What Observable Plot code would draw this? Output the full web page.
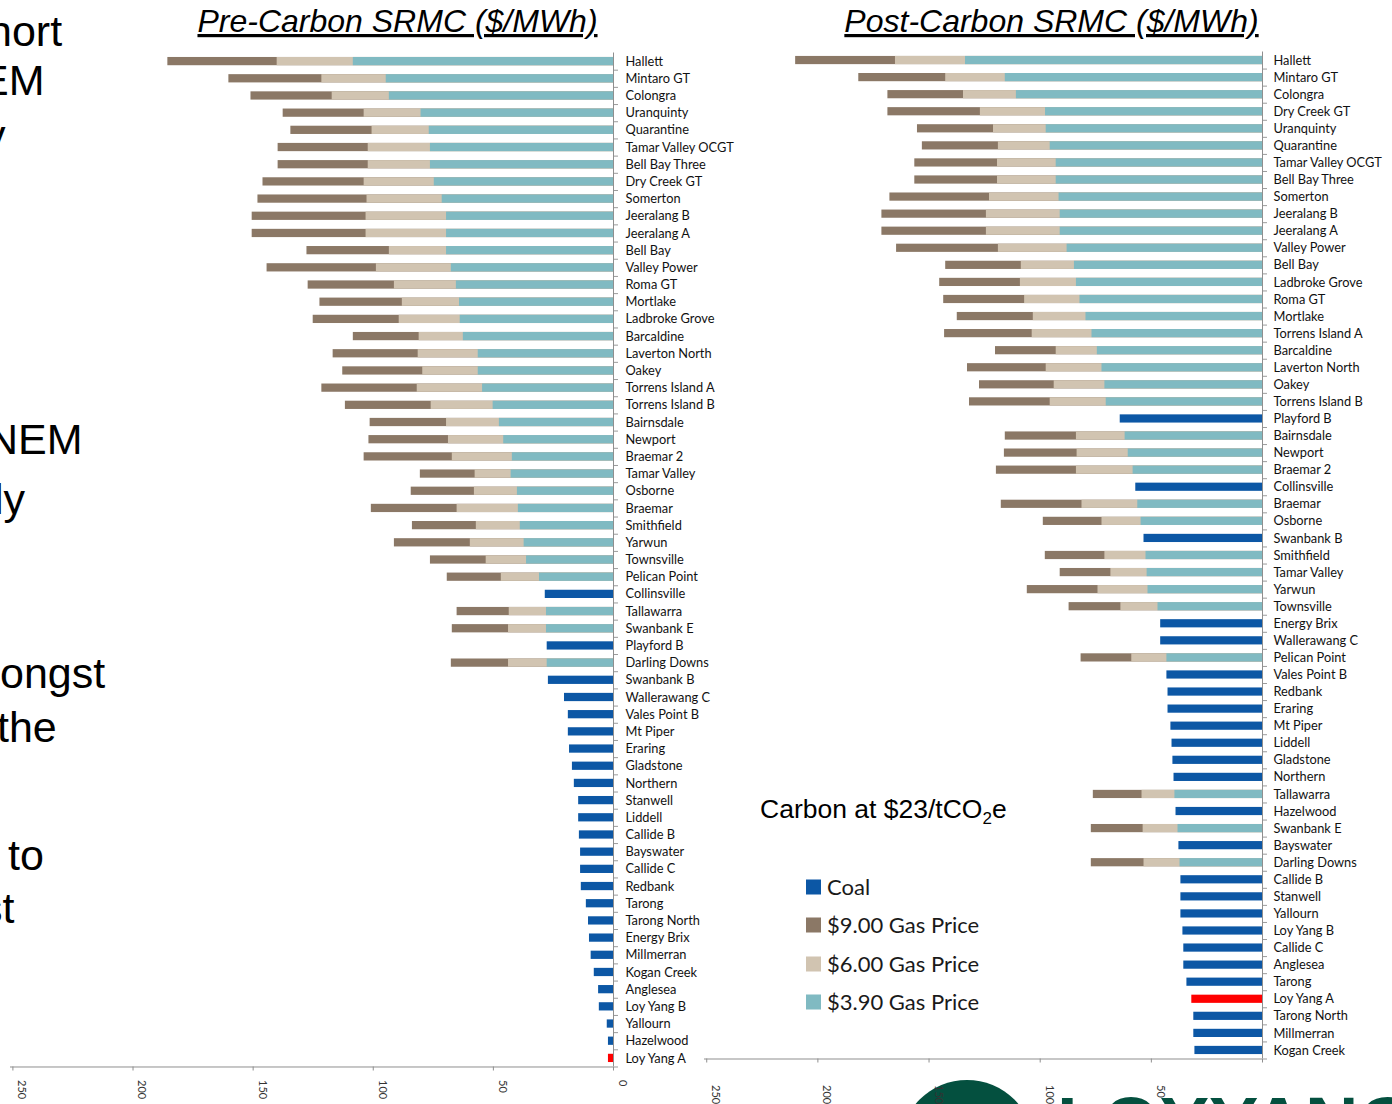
<!DOCTYPE html>
<html>
<head>
<meta charset="utf-8">
<script src="https://cdn.jsdelivr.net/npm/d3@7"></script>
<script src="https://cdn.jsdelivr.net/npm/@observablehq/plot@0.6"></script>
<style>
html, body { margin: 0; padding: 0; background: #fff; }
#page { position: relative; width: 1392px; height: 1104px; overflow: hidden; background: #fff; }
#page > * { position: absolute; top: 0; }
</style>
</head>
<body>
<div id="page">
  <svg id="deco" width="1392" height="1104" style="left:0"></svg>
  <div id="left" style="left:0; width:760px"></div>
  <div id="right" style="left:690px; width:702px"></div>
</div>
<script>
// ---------------- DATA ----------------
const preNames = ["Hallett","Mintaro GT","Colongra","Uranquinty","Quarantine","Tamar Valley OCGT","Bell Bay Three","Dry Creek GT","Somerton","Jeeralang B",
  "Jeeralang A","Bell Bay","Valley Power","Roma GT","Mortlake","Ladbroke Grove","Barcaldine","Laverton North","Oakey","Torrens Island A",
  "Torrens Island B","Bairnsdale","Newport","Braemar 2","Tamar Valley","Osborne","Braemar","Smithfield","Yarwun","Townsville",
  "Pelican Point","Collinsville","Tallawarra","Swanbank E","Playford B","Darling Downs","Swanbank B","Wallerawang C","Vales Point B","Mt Piper",
  "Eraring","Gladstone","Northern","Stanwell","Liddell","Callide B","Bayswater","Callide C","Redbank","Tarong",
  "Tarong North","Energy Brix","Millmerran","Kogan Creek","Anglesea","Loy Yang B","Yallourn","Hazelwood","Loy Yang A"];
const preGas390 = [108.3,94.6,93.3,80.1,76.7,76.2,76.2,74.6,71.3,69.5,
  69.5,69.5,67.5,65.4,64.1,63.8,62.5,56.3,56.3,54.5,
  50.1,47.5,45.7,42.1,42.6,40.0,39.6,38.8,37.2,36.2,
  30.8,null,27.9,27.9,null,27.6,null,null,null,null,
  null,null,null,null,null,null,null,null,null,null,
  null,null,null,null,null,null,null,null,null];
const preGas600 = [140.0,121.4,117.1,103.8,100.5,102.1,102.1,103.8,102.6,103.0,
  103.0,93.3,98.7,91.2,87.9,89.2,80.9,81.3,79.4,81.7,
  75.9,69.5,68.7,67.1,57.6,57.9,65.1,57.1,59.6,53.0,
  46.7,null,43.4,43.7,null,43.7,null,null,null,null,
  null,null,null,null,null,null,null,null,null,null,
  null,null,null,null,null,null,null,null,null];
const preGas900 = [185.5,160.1,150.9,137.5,134.3,139.6,139.6,145.9,148.0,150.4,
  150.4,127.6,144.2,127.1,122.2,125.0,108.3,116.7,112.7,121.4,
  111.6,101.3,101.8,103.8,80.4,84.2,100.8,83.7,91.2,76.2,
  69.2,null,65.1,67.1,null,67.5,null,null,null,null,
  null,null,null,null,null,null,null,null,null,null,
  null,null,null,null,null,null,null,null,null];
const preCoal = [null,null,null,null,null,null,null,null,null,null,
  null,null,null,null,null,null,null,null,null,null,
  null,null,null,null,null,null,null,null,null,null,
  null,28.4,null,null,27.6,null,27.1,20.4,18.8,18.8,
  18.3,17.1,16.3,14.5,14.5,14.2,13.7,13.7,13.4,11.3,
  10.4,10.0,9.3,8.0,6.2,5.9,2.6,2.1,2.1];

const postNames = ["Hallett","Mintaro GT","Colongra","Dry Creek GT","Uranquinty","Quarantine","Tamar Valley OCGT","Bell Bay Three","Somerton","Jeeralang B",
  "Jeeralang A","Valley Power","Bell Bay","Ladbroke Grove","Roma GT","Mortlake","Torrens Island A","Barcaldine","Laverton North","Oakey",
  "Torrens Island B","Playford B","Bairnsdale","Newport","Braemar 2","Collinsville","Braemar","Osborne","Swanbank B","Smithfield",
  "Tamar Valley","Yarwun","Townsville","Energy Brix","Wallerawang C","Pelican Point","Vales Point B","Redbank","Eraring","Mt Piper",
  "Liddell","Gladstone","Northern","Tallawarra","Hazelwood","Swanbank E","Bayswater","Darling Downs","Callide B","Stanwell",
  "Yallourn","Loy Yang B","Callide C","Anglesea","Tarong","Loy Yang A","Tarong North","Millmerran","Kogan Creek"];
const postGas390 = [133.6,115.7,110.7,97.6,97.3,95.5,92.8,92.8,91.5,91.0,
  91.0,87.9,84.6,83.7,82.1,79.4,76.7,74.3,72.2,70.9,
  70.3,null,61.8,60.4,58.2,null,56.1,54.6,null,52.4,
  51.9,51.5,47.0,null,null,43.0,null,null,null,null,
  null,null,null,39.4,null,38.0,null,37.1,null,null,
  null,null,null,null,null,null,null,null,null];
const postGas600 = [165.1,142.5,134.5,126.9,121.0,118.8,119.2,119.2,122.8,124.2,
  124.2,118.8,108.5,108.9,107.0,103.1,103.6,92.8,97.3,93.7,
  95.5,null,83.7,83.4,83.7,null,81.2,72.2,null,70.9,
  68.2,74.0,63.7,null,null,58.8,null,null,null,null,
  null,null,null,54.2,null,53.7,null,53.3,null,null,
  null,null,null,null,null,null,null,null,null];
const postGas900 = [210.0,181.6,168.5,168.5,155.2,153.0,156.4,156.4,167.6,171.2,
  171.2,164.6,142.5,145.2,143.4,137.3,143.0,120.1,132.7,127.3,
  131.8,null,115.7,116.1,119.7,null,117.5,98.6,null,97.7,
  91.0,105.8,87.0,null,null,81.6,null,null,null,null,
  null,null,null,76.1,null,77.0,null,77.0,null,null,
  null,null,null,null,null,null,null,null,null];
const postCoal = [null,null,null,null,null,null,null,null,null,null,
  null,null,null,null,null,null,null,null,null,null,
  null,64.0,null,null,null,57.0,null,null,53.3,null,
  null,null,null,45.8,45.8,null,43.0,42.5,42.5,41.2,
  40.7,40.3,39.8,null,38.9,null,37.6,null,36.7,36.7,
  36.7,35.8,35.4,35.4,34.0,31.8,30.9,30.9,30.4];

const highlight = "Loy Yang A";
const xTicks = [0, 50, 100, 150, 200, 250];
const legendLabels = ["Coal", "$9.00 Gas Price", "$6.00 Gas Price", "$3.90 Gas Price"];

// ---------------- STYLE ----------------
const C = {coal: "#0C57A5", g900: "#8B7866", g600: "#D1C4B1", g390: "#80BAC2", red: "#FF0000", axis: "#8f8f8f"};
const legendColors = [C.coal, C.g900, C.g600, C.g390];

function rows(names, g390, g600, g900, coal) {
  return names.map((name, i) => ({name, g390: g390[i], g600: g600[i], g900: g900[i], coal: coal[i]}));
}

function chart(names, data, cfg) {
  const bandTop = cfg.marginTop, bandBottom = cfg.height - cfg.marginBottom;
  const half = (bandBottom - bandTop) / names.length / 2;
  return Plot.plot({
    width: cfg.width, height: cfg.height,
    marginLeft: cfg.marginLeft, marginRight: cfg.marginRight,
    marginTop: cfg.marginTop, marginBottom: cfg.marginBottom,
    x: {domain: [0, 251], reverse: true},
    y: {domain: names, paddingInner: 0.52, paddingOuter: 0.26, round: false, label: null},
    style: {background: "transparent", fontFamily: "Lato, 'Open Sans', sans-serif", fontSize: "12.8px", color: "#111", overflow: "visible"},
    marks: [
      Plot.barX(data.filter(d => d.g900 != null), {x: "g900", y: "name", fill: C.g900}),
      Plot.barX(data.filter(d => d.g600 != null), {x: "g600", y: "name", fill: C.g600}),
      Plot.barX(data.filter(d => d.g390 != null), {x: "g390", y: "name", fill: C.g390}),
      Plot.barX(data.filter(d => d.coal != null && d.name !== highlight), {x: "coal", y: "name", fill: C.coal}),
      Plot.barX(data.filter(d => d.coal != null && d.name === highlight), {x: "coal", y: "name", fill: C.red}),
      Plot.ruleX([0], {stroke: C.axis}),
      Plot.ruleY([names[names.length - 1]], {dy: half, stroke: C.axis}),
      Plot.axisY({anchor: "right", tickSize: 0, tickPadding: cfg.labelPad, label: null}),
      Plot.axisY({anchor: "right", tickSize: 4, tickFormat: () => "", dy: half, stroke: "#9b9b9b", label: null}),
      Plot.axisX({ticks: xTicks, tickSize: 4, tickFormat: () => "", stroke: C.axis, label: null}),
      Plot.axisX({ticks: cfg.xLabels, tickSize: 0, tickPadding: cfg.xLabelPad, tickRotate: 90, dx: 9, fontSize: 11, fill: "#333", label: null})
    ]
  });
}

const preData = rows(preNames, preGas390, preGas600, preGas900, preCoal);
const postData = rows(postNames, postGas390, postGas600, postGas900, postCoal);

document.getElementById("left").appendChild(chart(preNames, preData, {
  width: 760, height: 1104, marginLeft: 10, marginRight: 147, marginTop: 52.5, marginBottom: 37.5,
  labelPad: 12, xLabels: xTicks, xLabelPad: 13
}));
document.getElementById("right").appendChild(chart(postNames, postData, {
  width: 702, height: 1104, marginLeft: 14, marginRight: 130, marginTop: 51.5, marginBottom: 45.5,
  labelPad: 11, xLabels: xTicks.slice(1), xLabelPad: 26
}));

// ---------------- DECORATION (slide text, titles, legend, logo) ----------------
const deco = d3.select("#deco");
const green = "#04503F";
// logo (behind everything)
deco.append("circle").attr("cx", 967).attr("cy", 1147).attr("r", 67).attr("fill", green);
deco.append("text").attr("x", 1057).attr("y", 1149)
  .attr("font-family", "'Liberation Sans', Arial, sans-serif").attr("font-weight", "bold")
  .attr("font-size", 74).attr("fill", green).text("LOYYANG");

// cut-off slide text on the left edge
const sideFragments = ["hort", "EM", "y", "NEM", "ly", "ongst", "the", "to", "st"];
const sideX = [-12, -20, -16, -13, -6, 0, -3, 8, -19];
const sideY = [46, 95, 150, 454, 514, 688, 742, 870, 923];
sideFragments.forEach((t, i) => {
  deco.append("text").attr("x", sideX[i]).attr("y", sideY[i])
    .attr("font-family", "'Liberation Sans', Arial, sans-serif").attr("font-size", 43)
    .attr("fill", "#000").text(t);
});

// titles
[["Pre-Carbon SRMC ($/MWh)", 397.5], ["Post-Carbon SRMC ($/MWh)", 1051.5]].forEach(([t, x]) => {
  deco.append("text").attr("x", x).attr("y", 32).attr("text-anchor", "middle")
    .attr("font-family", "'Liberation Sans', Arial, sans-serif").attr("font-style", "italic")
    .attr("font-size", 32).attr("fill", "#000").style("text-decoration", "underline").text(t);
});

// carbon note
const ct = deco.append("text").attr("x", 760).attr("y", 818)
  .attr("font-family", "'Liberation Sans', Arial, sans-serif").attr("font-size", 26.5).attr("fill", "#000");
ct.append("tspan").text("Carbon at $23/tCO");
ct.append("tspan").attr("font-size", 17).attr("dy", 6).text("2");
ct.append("tspan").attr("dy", -6).text("e");

// legend
const legendY = [887, 925, 964, 1002];
legendLabels.forEach((t, i) => {
  deco.append("rect").attr("x", 806).attr("y", legendY[i] - 7.5).attr("width", 15).attr("height", 15).attr("fill", legendColors[i]);
  deco.append("text").attr("x", 827).attr("y", legendY[i] + 7.5)
    .attr("font-family", "Lato, 'Open Sans', sans-serif").attr("font-size", 22).attr("fill", "#1a1a1a").text(t);
});
</script>
</body>
</html>
